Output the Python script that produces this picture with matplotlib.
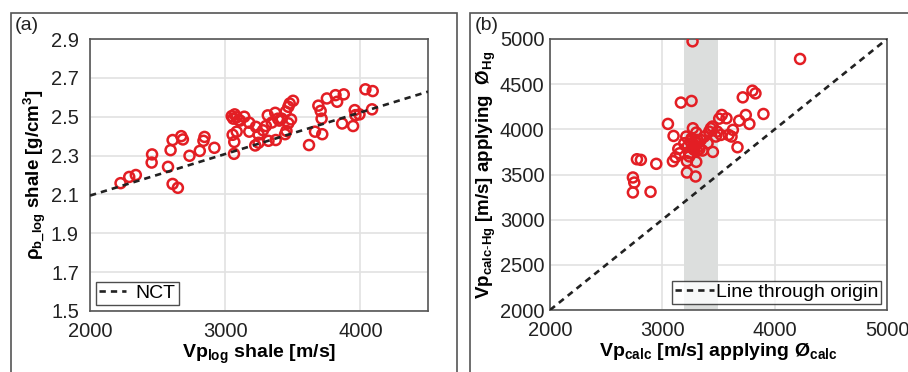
import matplotlib
matplotlib.use("Agg")
import matplotlib.pyplot as plt
from matplotlib.patches import Rectangle
import numpy as np

plt.rcParams['font.family'] = ['Liberation Sans', 'DejaVu Sans']
plt.rcParams['mathtext.fontset'] = 'custom'
plt.rcParams['mathtext.rm'] = 'Liberation Sans'
plt.rcParams['mathtext.default'] = 'regular'

# ---- data panel (a): Vp_log shale vs rho_b_log shale
vp_log = [2226, 2290, 2339, 2459, 2456, 2577, 2596, 2611, 2611, 2650,
          2675, 2687, 2736, 2812, 2847, 2839, 2920, 3065, 3055, 3067,
          3085, 3048, 3070, 3085, 3099, 3141, 3178, 3178, 3227, 3222,
          3247, 3247, 3301, 3315, 3320, 3370, 3374, 3390, 3418, 3443,
          3453, 3448, 3467, 3477, 3502, 3487, 3467, 3620, 3664, 3689,
          3706, 3713, 3718, 3752, 3816, 3828, 3877, 3865, 3946, 3958,
          3963, 3993, 4037, 4091, 4086, 3060, 3110, 3280, 3345, 3400]
rho_log = [2.158, 2.190, 2.200, 2.306, 2.264, 2.242, 2.328, 2.380, 2.154, 2.134,
           2.400, 2.383, 2.299, 2.324, 2.396, 2.376, 2.340, 2.309, 2.407, 2.370,
           2.423, 2.503, 2.512, 2.497, 2.483, 2.500, 2.469, 2.423, 2.448, 2.352,
           2.366, 2.408, 2.452, 2.507, 2.376, 2.520, 2.380, 2.490, 2.490, 2.410,
           2.427, 2.526, 2.551, 2.568, 2.582, 2.486, 2.466, 2.354, 2.423, 2.557,
           2.530, 2.490, 2.410, 2.594, 2.611, 2.577, 2.615, 2.465, 2.452, 2.534,
           2.508, 2.512, 2.641, 2.632, 2.538, 2.490, 2.480, 2.430, 2.470, 2.480]
nct_vp = [2000, 4500]
nct_rho = [2.094, 2.629]

# ---- data panel (b): Vp_calc vs Vp_calc-Hg
vp_calc = [3269, 4226, 3165, 3260, 3050, 3100, 3213, 3272, 3302, 3142,
           3153, 3094, 3118, 3219, 3302, 3219, 3296, 3225, 3260, 3313,
           3284, 3358, 3403, 3417, 3447, 3450, 3488, 3506, 3529, 3571,
           3521, 3589, 3628, 3616, 3669, 3684, 3716, 3743, 3775, 3802,
           3829, 3900, 2738, 2750, 2738, 2895, 2774, 2809, 2946, 3343,
           3373, 3476, 3240, 3328, 3195, 3432, 3290, 3270, 3310, 3250,
           3240, 3300, 3330, 3260]
vp_hg = [4974, 4779, 4296, 4314, 4060, 3927, 3920, 4012, 3964, 3783,
         3735, 3647, 3691, 3647, 3640, 3522, 3478, 3809, 3846, 3883,
         3772, 3765, 3846, 3975, 4031, 3750, 3975, 4118, 4159, 4122,
         3938, 3938, 3994, 3920, 3802, 4096, 4354, 4159, 4060, 4428,
         4398, 4170, 3467, 3411, 3301, 3308, 3669, 3662, 3618, 3883,
         3920, 3920, 3735, 3809, 3846, 4012, 3820, 3790, 3760, 3870,
         3700, 3850, 3780, 3900]
origin_x = [2000, 5000]
band = [3195, 3497]

red = '#e31e24'
dash = (2.4, 1.9)
tick_col = '#222222'
spine_col = '#555555'

fig = plt.figure(figsize=(9.08, 3.72), dpi=100)
W, H = 908, 372

def px(x0, y0, x1, y1):
    return [x0 / W, 1 - y1 / H, (x1 - x0) / W, (y1 - y0) / H]

# outer panel frames
for x0, x1 in [(11, 457), (470, 930)]:
    fig.patches.append(Rectangle((x0 / W, -0.05), (x1 - x0) / W, 1 - 13 / H + 0.05,
                                 transform=fig.transFigure, fill=False,
                                 edgecolor=spine_col, lw=1.2))

ax1 = fig.add_axes(px(90, 39, 428, 311))
ax2 = fig.add_axes(px(550, 39, 887, 310))

for ax in (ax1, ax2):
    ax.grid(True, color='#e2e2e2', lw=1.2)
    ax.set_axisbelow(True)
    for s in ax.spines.values():
        s.set_color(spine_col)
        s.set_linewidth(1.2)
    ax.tick_params(length=0, labelsize=14.5, colors=tick_col)
    ax.tick_params(axis='x', pad=8)
ax1.tick_params(axis='y', pad=8)
ax2.tick_params(axis='y', pad=4)

# panel (a)
ax1.scatter(vp_log, rho_log, s=52, facecolors='none', edgecolors=red, linewidths=1.8, zorder=3)
ax1.plot(nct_vp, nct_rho, color='#222222', lw=1.9, dashes=dash, label='NCT', zorder=4)
ax1.set_xlim(2000, 4500)
ax1.set_ylim(1.5, 2.9)
ax1.set_xticks([2000, 3000, 4000])
ax1.set_yticks(np.arange(1.5, 2.91, 0.2))
ax1.yaxis.set_major_formatter(matplotlib.ticker.FormatStrFormatter('%.1f'))
ax1.set_xlabel(r'Vp$_{log}$ shale [m/s]', fontsize=14, fontweight='bold', labelpad=1)
ax1.set_ylabel(r'ρ$_{b\_log}$ shale [g/cm$^{3}$]', fontsize=13.5, fontweight='bold', labelpad=2)
leg1 = ax1.legend(loc='lower left', fontsize=14, frameon=True, fancybox=False,
                  handlelength=1.4, handletextpad=0.5, borderpad=0.15,
                  borderaxespad=0.3)
leg1.get_frame().set_edgecolor('#222222')
leg1.get_frame().set_linewidth(1.0)

# panel (b)
ax2.axvspan(band[0], band[1], color='#dcdedd', lw=0, zorder=1)
ax2.scatter(vp_calc, vp_hg, s=52, facecolors='none', edgecolors=red, linewidths=1.8, zorder=3)
ax2.plot(origin_x, origin_x, color='#222222', lw=1.9, dashes=dash,
         label='Line through origin', zorder=4)
ax2.set_xlim(2000, 5000)
ax2.set_ylim(2000, 5000)
ax2.set_xticks([2000, 3000, 4000, 5000])
ax2.set_yticks(np.arange(2000, 5001, 500))
ax2.set_xlabel(r'Vp$_{calc}$ [m/s] applying Ø$_{calc}$', fontsize=14, fontweight='bold', labelpad=1)
ax2.set_ylabel(r'Vp$_{calc\text{-}Hg}$ [m/s] applying  Ø$_{Hg}$', fontsize=13.5,
               fontweight='bold', labelpad=1)
leg2 = ax2.legend(loc='lower right', fontsize=14, frameon=True, fancybox=False,
                  handlelength=2.0, handletextpad=0.1, borderpad=0.15,
                  borderaxespad=0.3)
leg2.get_frame().set_edgecolor('#222222')
leg2.get_frame().set_linewidth(1.0)

fig.text(15 / W, 1 - 26 / H, '(a)', fontsize=14, color=tick_col, va='center')
fig.text(475 / W, 1 - 26 / H, '(b)', fontsize=14, color=tick_col, va='center')

fig.savefig('out.png', dpi=100)
